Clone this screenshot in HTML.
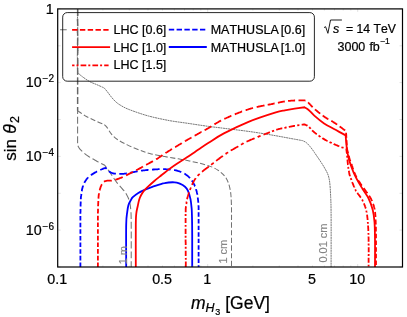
<!DOCTYPE html>
<html><head><meta charset="utf-8"><title>plot</title>
<style>html,body{margin:0;padding:0;background:#fff}body{width:407px;height:317px;position:relative;overflow:hidden;font-family:"Liberation Sans",sans-serif}</style>
</head><body>
<svg width="407" height="317" viewBox="0 0 407 317" style="position:absolute;left:0;top:0;will-change:transform">
<defs><clipPath id="cp"><rect x="57.7" y="8.9" width="344.8" height="258.1"/></clipPath></defs>
<g clip-path="url(#cp)" fill="none" stroke-linejoin="miter">
<path d="M77.6 8.9C77.6 9.8 78.0 12.2 77.9 14.0C77.9 15.8 77.3 18.0 77.3 20.0C77.3 22.0 77.9 24.2 77.9 26.0C77.9 27.8 77.2 29.2 77.2 31.0C77.2 32.8 77.9 34.8 77.9 37.0C77.9 39.2 77.4 41.8 77.4 44.0C77.4 46.2 78.0 48.0 78.0 50.0C78.0 52.0 77.3 54.0 77.3 56.0C77.3 58.0 77.9 60.2 77.9 62.0C77.9 63.8 77.4 65.2 77.4 67.0C77.4 68.8 77.7 71.6 77.8 72.5C78.2 73.0 79.1 74.2 81.1 75.7C83.0 77.2 86.7 79.9 89.3 81.4C91.9 82.9 94.2 83.5 96.7 84.6C99.2 85.7 102.9 87.4 104.1 87.9C104.6 88.5 105.8 89.8 107.0 91.3C108.2 92.8 110.0 95.4 111.5 97.2C113.0 99.0 114.5 100.7 116.0 102.0C117.5 103.3 118.2 103.9 120.4 105.2C122.6 106.5 124.6 107.8 129.3 109.6C134.0 111.4 141.8 114.2 148.5 116.0C155.2 117.8 162.6 119.3 169.3 120.6C176.1 121.8 182.4 122.5 189.0 123.5C195.6 124.5 202.8 125.6 208.6 126.4C214.4 127.2 217.0 127.4 223.9 128.3C230.8 129.2 241.5 130.4 250.0 131.6C258.5 132.8 267.6 134.3 275.0 135.6C282.4 136.9 290.1 138.4 294.7 139.2C299.3 140.0 301.2 140.4 302.5 140.6C303.1 140.9 305.1 141.7 306.4 142.7C307.6 143.7 308.6 144.8 310.0 146.5C311.4 148.2 312.1 149.0 314.5 152.6C316.9 156.2 322.2 163.6 324.6 168.0C327.1 172.4 328.2 174.2 329.2 179.1C330.2 184.0 330.4 191.6 330.7 197.6C331.0 203.6 331.0 203.4 331.1 215.0C331.2 226.6 331.1 258.3 331.1 267.0" stroke="#686868" stroke-width="0.9" stroke-dasharray="2 0.55"/>
<path d="M77.6 110.7C78.8 111.5 81.9 113.9 84.8 115.6C87.7 117.3 92.0 119.2 95.2 120.7C98.4 122.2 102.6 123.8 104.1 124.4C104.6 124.9 105.8 125.8 107.0 127.4C108.2 129.0 109.8 132.1 111.5 134.1C113.2 136.1 114.8 137.7 117.4 139.5C120.0 141.3 123.6 143.1 127.3 144.9C131.0 146.7 135.8 148.7 139.5 150.1C143.2 151.5 145.5 152.4 149.7 153.5C153.9 154.6 158.0 155.4 164.6 156.6C171.2 157.8 181.9 159.3 189.3 160.9C196.7 162.5 204.1 164.2 209.0 165.9C213.9 167.6 215.9 168.8 218.8 170.8C221.7 172.9 224.3 175.1 226.2 178.2C228.1 181.3 229.2 185.0 230.1 189.3C231.0 193.6 231.2 198.1 231.4 204.0C231.6 209.9 231.5 214.5 231.5 225.0C231.5 235.5 231.5 260.0 231.5 267.0" stroke="#727272" stroke-width="1.05" stroke-dasharray="5.2 2.4"/>
<path d="M77.6 8.9L77.6 145.2C78.1 145.9 78.8 147.9 80.4 149.6C82.0 151.3 84.8 153.7 87.4 155.6C90.0 157.5 93.2 159.2 96.1 160.8C99.0 162.4 103.3 164.5 104.7 165.2C105.1 165.8 106.0 166.8 107.3 168.7C108.6 170.6 111.0 174.2 112.6 176.5C114.2 178.8 115.3 180.6 116.9 182.6C118.5 184.6 120.6 186.8 122.1 188.6C123.6 190.4 124.8 191.4 126.0 193.5C127.2 195.6 128.6 198.2 129.4 201.0C130.2 203.8 130.5 206.5 130.8 210.0C131.1 213.5 131.1 212.5 131.2 222.0C131.3 231.5 131.2 259.5 131.2 267.0" stroke="#727272" stroke-width="1.05" stroke-dasharray="7 2.8"/>
<path d="M60.1 29.8H66.7" stroke="#727272" stroke-width="1.1"/>
<path d="M77.6 8.9V110.7" stroke="#666" stroke-width="1.4" stroke-dasharray="7 2.8"/>
<path d="M80.4 267.0L80.4 266.4L80.4 265.9L80.4 265.3L80.4 264.7L80.4 264.1L80.4 263.5L80.4 263.0L80.4 262.5M80.4 260.4L80.4 259.8L80.4 259.2L80.4 258.7L80.4 258.1L80.4 257.5L80.4 257.0L80.4 256.4L80.4 255.8M80.4 253.8L80.4 253.2L80.4 252.6L80.4 252.0L80.4 251.4L80.4 250.8L80.4 250.2L80.4 249.7L80.4 249.2M80.4 247.0L80.4 246.4L80.4 245.9L80.4 245.3L80.4 244.7L80.4 244.1L80.4 243.5L80.4 243.0L80.4 242.5M80.4 240.5L80.4 239.9L80.4 239.3L80.4 238.7L80.4 238.1L80.4 237.6L80.4 237.0L80.4 236.4L80.4 236.0M80.4 233.8L80.4 233.2L80.4 232.7L80.4 232.1L80.4 231.5L80.4 230.9L80.4 230.3L80.4 229.7L80.4 229.3M80.4 227.3L80.4 226.7L80.4 226.1L80.4 225.5L80.4 224.9L80.4 224.3L80.4 223.7L80.4 223.2L80.4 222.7M80.4 220.5L80.4 219.9L80.4 219.4L80.4 218.8L80.4 218.2L80.4 217.6L80.4 217.1L80.4 216.5L80.4 216.0M80.4 213.7L80.4 213.1L80.4 212.5L80.5 211.9L80.5 211.4L80.5 210.8L80.5 210.3L80.5 209.8L80.5 209.2L80.5 208.9M80.6 206.6L80.6 206.0L80.6 205.6L80.6 205.0L80.6 204.4L80.6 203.9L80.7 203.4L80.7 202.9L80.7 202.4L80.7 202.0L80.7 201.6M80.8 199.3L80.8 198.8L80.9 198.3L80.9 197.8L80.9 197.4L80.9 197.0L81.0 196.5L81.1 196.0L81.1 195.7L81.2 195.3L81.3 194.8L81.3 194.4L81.4 194.0L81.4 193.9M81.8 191.3L81.9 190.8L81.9 190.2L82.0 189.7L82.1 189.2L82.2 188.7L82.4 188.2L82.5 187.7L82.6 187.2L82.8 186.7L82.9 186.2L83.1 185.8L83.2 185.5M84.4 182.8L84.6 182.3L84.9 181.9L85.1 181.4L85.4 181.0L85.6 180.6L85.9 180.2L86.2 179.7L86.5 179.3L86.8 178.9L87.1 178.6L87.4 178.2L87.7 177.8L88.1 177.5L88.2 177.3M90.9 175.2L91.3 174.9L91.7 174.6L92.1 174.4L92.5 174.1L92.9 173.9L93.3 173.6L93.7 173.4L94.1 173.1L94.5 172.9L94.9 172.6L95.3 172.4L95.7 172.2L96.1 172.0L96.5 171.7L96.9 171.5L97.1 171.4M100.3 170.0L100.8 169.7L101.3 169.5L101.8 169.3L102.2 169.1L102.7 168.9L103.1 168.7L103.5 168.6L103.9 168.4L104.2 168.3L104.6 168.2L104.9 168.1L105.4 167.9L105.8 168.0L106.0 168.3L106.3 168.5L106.5 168.8L106.6 168.9M109.0 171.2L109.3 171.5L109.6 171.7L109.9 171.9L110.2 172.1L110.5 172.3L110.8 172.5L111.2 172.7L111.5 172.8L111.9 173.0L112.3 173.1L112.8 173.3L113.3 173.4L113.8 173.5L114.3 173.6L114.7 173.6L115.2 173.7L115.6 173.7L115.9 173.7M119.3 173.9L119.8 173.9L120.3 173.9L120.9 173.9L121.4 173.9L121.9 173.9L122.3 173.9L122.8 173.9L123.3 173.8L123.8 173.8L124.3 173.7L124.8 173.7L125.2 173.6L125.7 173.6L126.2 173.5L126.7 173.4L126.8 173.4M130.3 172.8L130.8 172.7L131.3 172.6L131.7 172.5L132.2 172.4L132.7 172.3L133.1 172.2L133.5 172.1L134.0 172.0L134.4 171.9L134.9 171.8L135.4 171.7L135.8 171.6L136.3 171.5L136.8 171.4L137.3 171.3L137.6 171.2M141.0 170.7L141.5 170.6L142.0 170.6L142.6 170.5L143.1 170.4L143.6 170.4L144.2 170.3L144.7 170.3L145.3 170.2L145.8 170.1L146.4 170.1L146.9 170.0L147.5 170.0L148.1 169.9L148.5 169.9M152.0 169.6L152.6 169.6L153.1 169.5L153.6 169.5L154.1 169.5L154.6 169.4L155.2 169.4L155.7 169.4L156.2 169.3L156.7 169.3L157.2 169.3L157.7 169.3L158.2 169.2L158.7 169.2L159.2 169.2L159.6 169.2M163.1 169.2L163.6 169.2L164.1 169.2L164.6 169.2L165.1 169.2L165.6 169.2L166.2 169.3L166.7 169.3L167.2 169.3L167.7 169.3L168.3 169.4L168.8 169.4L169.3 169.5L169.8 169.5L170.4 169.5L170.6 169.6M174.1 170.0L174.6 170.1L175.1 170.2L175.6 170.3L176.1 170.4L176.6 170.5L177.0 170.6L177.5 170.8L177.9 170.9L178.4 171.0L178.8 171.2L179.3 171.3L179.7 171.5L180.2 171.7L180.6 171.8L181.1 172.0L181.3 172.1M184.4 173.7L184.9 173.9L185.4 174.3L185.9 174.6L186.3 174.9L186.8 175.2L187.2 175.5L187.7 175.9L188.1 176.2L188.5 176.6L188.9 176.9L189.2 177.3L189.6 177.7L189.9 178.1M191.9 180.5L192.2 181.0L192.4 181.4L192.7 181.8L193.0 182.3L193.3 182.8L193.5 183.2L193.8 183.7L194.0 184.2L194.3 184.7L194.5 185.2L194.7 185.7L194.9 186.2L195.0 186.3M196.0 189.1L196.1 189.7L196.3 190.2L196.4 190.7L196.6 191.1L196.7 191.6L196.8 192.0L196.9 192.5L197.0 193.0L197.1 193.4L197.2 193.9L197.3 194.4L197.3 194.8M197.8 197.5L197.8 198.0L197.9 198.5L197.9 199.0L198.0 199.6L198.1 200.1L198.1 200.6L198.2 201.2L198.2 201.7L198.3 202.2L198.3 202.8M198.5 205.3L198.5 205.8L198.5 206.2L198.6 206.7L198.6 207.1L198.6 207.5L198.6 208.0L198.6 208.5L198.6 209.0L198.6 209.6L198.6 210.1M198.6 212.3L198.6 212.8L198.6 213.4L198.6 213.9L198.6 214.5L198.6 215.1L198.6 215.6L198.6 216.2L198.6 216.8M198.6 218.9L198.6 219.5L198.6 220.0L198.6 220.6L198.6 221.2L198.6 221.8L198.6 222.4L198.6 223.0L198.6 223.4M198.6 225.7L198.6 226.3L198.6 226.8L198.6 227.4L198.6 228.0L198.6 228.6L198.6 229.2L198.6 229.7L198.6 230.0M198.6 232.2L198.6 232.8L198.6 233.4L198.6 234.0L198.6 234.5L198.6 235.1L198.6 235.7L198.6 236.3L198.6 236.7M198.6 238.7L198.6 239.3L198.6 239.9L198.6 240.5L198.6 241.1L198.6 241.7L198.6 242.3L198.6 242.9L198.6 243.1M198.6 245.3L198.6 245.9L198.6 246.5L198.6 247.1L198.6 247.7L198.6 248.2L198.6 248.8L198.6 249.4L198.6 249.8M198.6 252.0L198.6 252.6L198.6 253.1L198.6 253.7L198.6 254.3L198.6 254.8L198.6 255.4L198.6 256.0L198.6 256.4M198.6 258.6L198.6 259.2L198.6 259.8L198.6 260.3L198.6 260.9L198.6 261.5L198.6 262.1L198.6 262.7L198.6 263.1M198.6 265.2L198.6 265.7L198.6 266.3L198.6 266.9L198.6 267.0" stroke="#00f" stroke-width="1.8"/>
<path d="M126.2 267.0C126.2 259.9 126.0 233.7 126.2 224.6C126.4 215.5 126.8 215.5 127.2 212.3C127.6 209.1 127.8 207.4 128.4 205.3C129.0 203.2 130.2 201.3 130.9 200.0C131.6 198.7 131.6 198.4 132.8 197.2C134.0 196.0 136.2 194.2 138.3 192.9C140.5 191.6 143.4 190.3 145.7 189.3C148.0 188.3 149.2 187.8 152.3 186.8C155.5 185.8 160.9 183.8 164.6 183.1C168.3 182.3 172.0 182.2 174.5 182.3C177.0 182.4 178.1 183.0 179.8 183.7C181.6 184.4 183.6 185.5 185.0 186.7C186.4 187.9 187.1 188.7 188.0 190.8C188.9 192.9 189.9 196.1 190.5 199.1C191.1 202.1 191.4 205.9 191.7 209.0C191.9 212.1 191.9 213.3 192.0 217.6C192.1 221.9 192.2 226.8 192.2 235.0C192.2 243.2 192.2 261.7 192.2 267.0" stroke="#00f" stroke-width="1.8"/>
<path d="M97.9 267.0L97.9 266.4L97.9 265.9L97.9 265.3L97.9 264.8L97.9 264.2L97.9 263.7L97.9 263.1L97.9 262.5M97.9 260.4L97.9 259.8L97.9 259.2L97.9 258.6L97.9 258.1L97.9 257.5L97.9 256.9L97.9 256.3L97.9 255.8M97.9 253.7L97.9 253.1L97.9 252.5L97.9 251.9L97.9 251.4L97.9 250.8L97.9 250.2L97.9 249.6L97.9 249.1M97.9 246.9L97.9 246.4L97.9 245.8L97.9 245.2L97.9 244.6L97.9 244.0L97.9 243.4L97.9 242.9L97.9 242.4M97.9 240.4L97.9 239.8L97.9 239.2L97.9 238.6L97.9 238.0L97.9 237.4L97.9 236.9L97.9 236.3L97.9 235.8M97.9 233.7L97.9 233.1L97.9 232.5L97.9 231.9L97.9 231.3L97.9 230.8L97.9 230.2L97.9 229.6L97.9 229.3M97.9 227.1L97.9 226.6L97.9 226.0L97.9 225.4L97.9 224.8L97.9 224.2L97.9 223.6L97.9 223.1L97.9 222.5M97.9 220.4L97.9 219.8L97.9 219.2L97.9 218.6L97.9 218.0L97.9 217.5L97.9 216.9L97.9 216.3L97.9 215.7M97.9 213.5L97.9 212.9L97.9 212.4L98.0 211.8L98.0 211.2L98.0 210.6L98.0 210.1L98.0 209.6L98.0 209.1L98.0 208.7M98.1 206.2L98.1 205.7L98.1 205.2L98.2 204.6L98.2 204.1L98.2 203.5L98.2 203.0L98.3 202.4L98.3 202.0L98.3 201.5L98.3 201.1M98.4 198.6L98.5 198.2L98.5 197.8L98.5 197.2L98.6 196.6L98.6 196.1L98.7 195.6L98.7 195.1L98.8 194.6L98.9 194.0L99.0 193.4L99.0 193.2M99.6 190.4L99.8 189.9L99.9 189.4L100.0 188.9L100.2 188.4L100.4 187.9L100.5 187.4L100.7 187.0L100.9 186.5L101.1 186.0L101.3 185.5L101.5 185.0L101.7 184.6L101.9 184.3M104.0 181.7L104.5 181.4L104.8 181.3L105.1 181.2L105.4 181.1L105.8 181.0L106.2 180.9L106.6 180.8L107.1 180.7L107.6 180.7L108.1 180.6L108.6 180.6L109.2 180.6L109.8 180.6L110.2 180.6L110.6 180.6L111.0 180.6L111.5 180.6L111.8 180.5M115.4 179.8L115.9 179.6L116.4 179.5L116.9 179.3L117.4 179.1L117.9 178.9L118.4 178.8L118.9 178.6L119.4 178.4L119.9 178.2L120.4 178.0L120.9 177.8L121.4 177.6L121.9 177.4L122.3 177.2L122.7 177.0M126.1 175.4L126.6 175.2L127.1 174.9L127.5 174.7L128.0 174.4L128.5 174.2L129.0 173.9L129.5 173.7L130.0 173.4L130.4 173.2L130.9 172.9L131.4 172.7L131.8 172.5L132.3 172.3L132.7 172.0L132.9 171.9M136.2 170.3L136.7 170.0L137.1 169.8L137.5 169.6L138.0 169.3L138.4 169.1L138.9 168.8L139.4 168.6L139.8 168.3L140.3 168.1L140.7 167.8L141.2 167.6L141.7 167.3L142.2 167.0L142.7 166.8L143.0 166.6M146.2 164.9L146.7 164.6L147.2 164.3L147.7 164.0L148.2 163.8L148.7 163.5L149.2 163.2L149.7 162.9L150.2 162.7L150.7 162.4L151.2 162.2L151.6 161.9L152.1 161.7L152.6 161.4L153.0 161.2M156.1 159.4L156.5 159.1L157.0 158.9L157.3 158.7L157.6 158.5L158.0 158.2L158.4 157.9L158.7 157.7L159.1 157.4L159.5 157.1L159.9 156.9L160.3 156.6L160.7 156.4L161.1 156.1L161.5 155.8L161.9 155.5L162.4 155.2L162.5 155.1M165.5 153.1L165.9 152.8L166.4 152.5L166.9 152.2L167.4 151.9L167.8 151.6L168.2 151.4L168.7 151.1L169.2 150.8L169.7 150.5L170.1 150.2L170.6 149.9L171.0 149.6L171.5 149.3L172.0 149.0M175.1 147.1L175.6 146.9L176.1 146.6L176.6 146.3L177.0 146.0L177.5 145.7L178.0 145.4L178.5 145.1L179.0 144.8L179.5 144.5L180.0 144.2L180.5 143.9L181.0 143.6L181.6 143.3L181.7 143.2M184.9 141.3L185.4 141.0L185.9 140.7L186.3 140.4L186.8 140.2L187.3 139.9L187.8 139.6L188.3 139.3L188.8 139.0L189.2 138.8L189.7 138.5L190.2 138.2L190.7 138.0L191.1 137.7L191.5 137.5M194.6 135.7L195.1 135.5L195.6 135.2L196.1 134.9L196.5 134.7L197.0 134.4L197.5 134.1L198.0 133.9L198.5 133.6L199.0 133.3L199.4 133.1L199.9 132.8L200.4 132.5L200.9 132.3L201.3 132.0L201.5 132.0M204.6 130.3L205.1 130.0L205.6 129.7L206.1 129.4L206.6 129.1L207.1 128.8L207.6 128.6L208.1 128.3L208.6 128.0L209.1 127.7L209.5 127.5L210.0 127.2L210.4 126.9L210.9 126.6L211.3 126.4M214.4 124.4L214.8 124.1L215.3 123.9L215.7 123.6L216.2 123.3L216.6 123.0L217.1 122.7L217.6 122.5L218.0 122.2L218.5 121.9L219.0 121.6L219.5 121.3L220.0 121.1L220.4 120.8L220.9 120.6L221.0 120.5M224.3 118.9L224.8 118.7L225.3 118.5L225.8 118.2L226.4 118.0L226.9 117.7L227.4 117.5L227.9 117.3L228.4 117.1L228.9 116.8L229.4 116.6L230.0 116.4L230.5 116.2L231.0 115.9L231.4 115.8M234.8 114.3L235.3 114.1L235.8 113.9L236.3 113.7L236.9 113.5L237.4 113.3L237.9 113.1L238.4 112.9L238.9 112.7L239.4 112.5L239.9 112.3L240.5 112.1L241.0 111.9L241.5 111.7L242.0 111.5L242.1 111.5M245.6 110.2L246.2 110.1L246.7 109.9L247.3 109.7L247.8 109.5L248.4 109.3L248.9 109.1L249.5 109.0L250.0 108.8L250.5 108.6L251.1 108.5L251.6 108.3L252.2 108.2L252.7 108.0L253.0 107.9M256.7 107.0L257.3 106.9L257.8 106.8L258.4 106.6L259.0 106.5L259.6 106.4L260.1 106.3L260.7 106.1L261.3 106.0L261.8 105.9L262.4 105.8L263.0 105.7L263.5 105.6L264.1 105.5L264.5 105.4M267.7 104.8L268.3 104.7L268.9 104.6L269.4 104.5L270.0 104.4L270.5 104.3L271.1 104.2L271.6 104.1L272.2 104.0L272.8 103.9L273.3 103.7L273.9 103.6L274.4 103.5L274.6 103.5M277.9 102.8L278.4 102.7L278.9 102.6L279.4 102.4L279.9 102.3L280.4 102.2L280.8 102.1L281.3 102.0L281.7 101.9L282.1 101.9L282.5 101.8L282.9 101.7L283.3 101.6L283.8 101.6L284.3 101.5L284.8 101.4M288.1 101.0L288.6 100.9L289.2 100.9L289.8 100.8L290.3 100.8L290.9 100.7L291.4 100.7L292.0 100.7L292.5 100.6L293.1 100.6L293.6 100.6L294.2 100.5L294.7 100.5L295.1 100.5M298.5 100.4L298.9 100.4L299.4 100.4L299.9 100.3L300.3 100.3L300.8 100.3L301.4 100.3L302.0 100.3L302.5 100.3L303.0 100.3L303.4 100.3L303.9 100.3L304.4 100.3L304.7 100.4L305.0 100.5L305.4 100.6L305.5 100.6M308.1 102.4L308.4 102.7L308.7 103.0L309.0 103.4L309.4 103.8L309.8 104.1L310.1 104.5L310.5 105.0L310.9 105.4L311.3 105.8L311.6 106.1L312.0 106.5L312.3 106.8L312.6 107.1L312.7 107.2M315.0 109.3L315.4 109.7L315.8 110.0L316.2 110.3L316.5 110.7L316.9 111.0L317.3 111.3L317.8 111.7L318.2 112.0L318.6 112.4L319.0 112.7L319.4 113.1L319.9 113.4L320.2 113.7M322.7 115.6L323.2 115.9L323.6 116.2L324.0 116.5L324.4 116.8L324.8 117.1L325.2 117.4L325.7 117.6L326.1 117.9L326.5 118.2L326.9 118.4L327.4 118.7L327.8 118.9L328.2 119.2L328.4 119.3M331.3 120.9L331.7 121.1L332.1 121.3L332.5 121.6L332.9 121.8L333.2 122.0L333.8 122.3L334.2 122.7L334.7 123.0L335.2 123.3L335.7 123.6L336.2 124.0L336.7 124.3L337.1 124.6M339.6 126.4L340.1 126.7L340.4 127.0L340.8 127.3L341.2 127.6L341.5 127.8L341.9 128.1L342.2 128.3L342.6 128.6L343.1 129.0L343.5 129.3L343.9 129.6L344.3 129.9L344.6 130.1L345.0 130.4L345.1 130.5M346.1 132.8L346.1 133.4L346.2 134.0L346.2 134.6L346.2 135.1L346.3 135.7L346.3 136.3L346.3 136.9L346.4 137.5L346.4 137.8M346.5 140.1L346.5 140.7L346.6 141.3L346.6 141.8L346.6 142.4L346.7 143.0L346.7 143.6L346.7 144.2L346.8 144.8L346.8 145.2M346.9 147.5L347.0 148.1L347.0 148.7L347.1 149.1L347.2 149.6L347.3 150.0L347.4 150.5L347.6 151.0L347.7 151.5L347.8 152.0L348.0 152.6L348.1 153.0M348.8 155.6L348.9 156.1L349.0 156.7L349.2 157.1L349.3 157.6L349.4 158.0L349.6 158.5L349.7 159.0L349.9 159.5L350.0 160.0L350.2 160.5L350.3 161.0L350.4 161.2M351.4 163.9L351.5 164.4L351.7 164.9L351.9 165.4L352.0 165.8L352.2 166.3L352.4 166.8L352.5 167.3L352.7 167.8L352.9 168.3L353.1 168.9L353.3 169.4M354.2 172.1L354.4 172.6L354.6 173.2L354.9 173.7L355.1 174.3L355.3 174.8L355.5 175.3L355.8 175.8L356.0 176.3L356.3 176.8L356.5 177.3L356.7 177.7M358.2 180.2L358.5 180.7L358.8 181.2L359.2 181.7L359.5 182.1L359.8 182.6L360.1 183.1L360.4 183.5L360.7 184.0L361.0 184.4L361.3 184.8L361.6 185.3L361.9 185.6M363.6 188.1L363.9 188.5L364.2 188.9L364.5 189.3L364.7 189.7L365.0 190.0L365.3 190.3L365.5 190.7L365.8 191.0L366.1 191.5L366.5 192.0L366.8 192.4L367.2 192.9L367.4 193.2M369.1 195.7L369.3 196.1L369.6 196.4L369.8 196.8L370.0 197.1L370.2 197.5L370.5 197.9L370.7 198.3L370.9 198.6L371.1 199.0L371.3 199.4L371.5 199.9L371.7 200.3L371.9 200.7L372.1 201.2M373.1 203.9L373.3 204.4L373.5 204.9L373.6 205.4L373.8 205.9L374.0 206.4L374.1 207.0L374.2 207.5L374.4 208.1L374.5 208.7L374.6 209.3L374.6 209.4M375.0 212.0L375.1 212.4L375.2 212.9L375.2 213.4L375.2 213.8L375.3 214.3L375.3 214.8L375.4 215.3L375.4 215.8L375.4 216.3L375.5 216.8L375.5 217.1M375.6 219.4L375.6 220.0L375.6 220.6L375.7 221.1L375.7 221.6L375.7 222.1L375.7 222.6L375.7 223.1L375.8 223.7L375.8 224.2L375.8 224.4M375.9 226.7L375.9 227.2L375.9 227.8L375.9 228.4L375.9 228.9L375.9 229.5L375.9 230.1L375.9 230.7L375.9 231.2L375.9 231.4M376.0 233.7L376.0 234.2L376.0 234.7L376.0 235.3L376.0 235.8L376.0 236.4L376.0 237.0L376.0 237.6L376.0 238.2L376.0 238.3M376.0 240.4L376.0 241.0L376.0 241.6L376.0 242.2L376.0 242.7L376.0 243.3L376.0 243.9L376.0 244.4L376.0 245.0L376.0 245.1M376.0 247.2L376.0 247.7L376.0 248.3L376.0 248.9L376.0 249.5L376.0 250.1L376.0 250.7L376.0 251.2L376.0 251.7M376.0 253.7L376.0 254.3L376.0 254.9L376.0 255.5L376.0 256.1L376.0 256.6L376.0 257.2L376.0 257.8L376.0 258.3M376.0 260.4L376.0 261.0L376.0 261.5L376.0 262.1L376.0 262.7L376.0 263.3L376.0 263.8L376.0 264.4L376.0 265.0" stroke="#f00" stroke-width="1.8"/>
<path d="M135.8 267.0C135.8 259.9 135.7 233.5 135.8 224.6C135.9 215.7 136.0 216.5 136.3 213.5C136.6 210.5 137.1 208.9 137.6 206.7C138.1 204.4 138.5 202.0 139.1 200.0C139.7 198.0 140.4 196.4 141.3 194.8C142.2 193.2 143.3 191.6 144.3 190.4C145.3 189.2 145.5 189.0 147.2 187.4C148.9 185.8 152.1 182.8 154.6 180.7C157.1 178.6 159.5 176.8 162.0 174.8C164.5 172.8 166.9 170.8 169.4 168.9C171.9 167.1 174.0 165.6 176.9 163.7C179.8 161.8 183.3 159.8 187.0 157.3C190.7 154.8 195.7 151.3 199.3 148.9C202.9 146.5 204.5 145.4 208.6 142.8C212.7 140.2 217.2 136.9 223.9 133.4C230.6 129.9 240.0 125.3 248.5 121.8C257.0 118.3 268.9 114.5 275.0 112.6C281.1 110.7 281.5 110.9 284.8 110.3C288.1 109.7 291.4 109.2 294.7 108.7C298.0 108.2 302.9 107.5 304.5 107.3C305.1 107.7 306.8 108.3 308.4 109.7C310.0 111.1 311.7 113.3 314.3 115.6C316.9 117.9 320.8 121.2 324.1 123.4C327.4 125.6 330.4 127.0 334.0 129.0C337.6 131.0 343.7 134.3 345.6 135.4L346.8 148.7C347.2 150.6 347.8 155.6 349.1 160.0C350.5 164.4 352.6 170.6 354.9 175.4C357.1 180.2 360.3 185.2 362.6 189.0C364.9 192.8 366.9 195.1 368.6 198.5C370.3 201.9 371.7 205.8 372.7 209.7C373.7 213.6 374.1 216.9 374.5 222.0C374.9 227.1 374.9 232.5 375.0 240.0C375.1 247.5 375.0 262.5 375.0 267.0" stroke="#f00" stroke-width="1.8"/>
<path d="M185.8 267.0L185.8 266.4L185.8 265.9L185.8 265.3L185.8 264.8L185.8 264.2L185.8 263.7L185.8 263.1L185.8 262.5L185.8 261.9L185.8 261.6M185.8 259.8L185.8 259.2L185.8 258.6L185.7 258.0L185.7 257.9M185.7 256.0L185.7 255.4L185.7 254.8L185.7 254.3L185.7 253.7L185.7 253.1L185.7 252.6L185.7 252.0L185.7 251.4L185.7 250.8L185.7 250.7M185.7 248.7L185.7 248.1L185.7 247.5L185.7 246.9L185.7 246.8M185.7 244.9L185.7 244.3L185.7 243.7L185.7 243.1L185.7 242.6L185.6 242.0L185.6 241.4L185.6 240.8L185.6 240.2L185.6 239.6M185.6 237.7L185.6 237.1L185.6 236.5L185.6 236.0L185.6 235.8M185.6 234.0L185.6 233.4L185.6 232.8L185.6 232.2L185.6 231.6L185.6 231.0L185.6 230.4L185.6 229.9L185.6 229.3L185.6 228.7M185.6 226.8L185.6 226.3L185.6 225.7L185.6 225.1L185.6 224.9M185.6 223.1L185.6 222.5L185.6 222.0L185.6 221.4L185.6 220.8L185.6 220.2L185.6 219.6L185.6 219.0L185.6 218.4L185.6 217.9M185.6 216.1L185.6 215.5L185.6 214.9L185.6 214.3L185.6 214.0M185.7 212.2L185.7 211.7L185.7 211.1L185.7 210.6L185.7 210.1L185.7 209.6L185.7 209.0L185.7 208.5L185.8 208.0L185.8 207.5L185.9 207.1L185.9 206.7L186.0 206.2M186.3 204.0L186.4 203.5L186.5 202.9L186.5 202.4L186.6 201.9L186.7 201.6M187.1 199.3L187.2 198.8L187.3 198.3L187.4 197.8L187.5 197.3L187.7 196.8L187.8 196.3L187.9 195.8L188.1 195.3L188.2 194.8L188.4 194.3L188.6 193.7L188.7 193.2L188.9 192.7L189.0 192.4M190.0 190.0L190.1 189.5L190.3 189.0L190.5 188.5L190.7 188.0L190.9 187.5M192.0 184.9L192.2 184.4L192.4 183.9L192.7 183.4L192.9 182.9L193.2 182.4L193.5 181.9L193.7 181.4L194.0 180.9L194.3 180.4L194.6 179.9L194.9 179.4L195.2 178.9L195.6 178.4L195.7 178.2M197.6 175.9L197.9 175.5L198.3 175.1L198.6 174.8L199.0 174.4L199.4 174.1L199.7 173.8M202.0 171.8L202.4 171.5L202.8 171.1L203.3 170.8L203.7 170.4L204.1 170.1L204.6 169.8L205.0 169.4L205.4 169.1L205.9 168.8L206.3 168.4L206.8 168.1L207.2 167.8L207.7 167.5L208.1 167.1L208.5 166.8L208.8 166.6M211.2 164.8L211.6 164.4L212.0 164.1L212.4 163.8L212.8 163.5L213.3 163.1L213.7 162.8M216.1 160.9L216.5 160.6L216.9 160.3L217.4 159.9L217.8 159.6L218.2 159.3L218.6 159.0L219.1 158.7L219.5 158.3L219.9 158.0L220.3 157.7L220.7 157.4L221.1 157.1L221.6 156.8L222.0 156.5L222.4 156.2L222.8 155.9L222.9 155.8M225.5 154.0L226.0 153.7L226.4 153.3L226.9 153.0L227.3 152.8L227.8 152.5L228.1 152.3M230.8 150.6L231.2 150.3L231.6 150.1L232.1 149.8L232.6 149.5L233.2 149.2L233.7 148.9L234.2 148.6L234.7 148.4L235.2 148.1L235.6 147.8L236.1 147.5L236.6 147.3L237.1 147.0L237.6 146.7L238.0 146.5L238.3 146.3M241.0 144.7L241.4 144.4L241.8 144.2L242.2 143.9L242.6 143.7L243.1 143.4L243.5 143.2L243.6 143.1M246.5 141.7L247.0 141.5L247.5 141.2L248.0 141.0L248.5 140.8L249.0 140.6L249.6 140.3L250.1 140.1L250.6 139.9L251.1 139.7L251.6 139.5L252.2 139.3L252.7 139.0L253.2 138.8L253.7 138.6L254.2 138.4L254.6 138.2M257.6 137.1L258.1 136.8L258.6 136.6L259.1 136.4L259.6 136.2L260.1 136.0L260.6 135.8M263.5 134.7L264.1 134.5L264.6 134.3L265.1 134.0L265.7 133.8L266.2 133.6L266.8 133.4L267.3 133.2L267.9 133.0L268.4 132.8L268.9 132.6L269.4 132.4L269.9 132.2M272.0 131.4L272.5 131.2L273.1 131.0L273.6 130.8L274.1 130.6M276.3 129.9L276.8 129.7L277.3 129.5L277.7 129.4L278.3 129.2L278.7 129.1L279.2 128.9L279.8 128.8L280.3 128.7L280.7 128.6L281.1 128.5L281.6 128.4L282.0 128.3L282.3 128.3M284.4 127.9L284.9 127.8L285.5 127.6L286.0 127.5L286.6 127.4M288.8 126.9L289.3 126.8L289.9 126.7L290.4 126.6L291.0 126.5L291.5 126.4L292.1 126.3L292.6 126.2L293.2 126.1L293.7 126.0L294.3 125.9L294.8 125.8L295.0 125.8M297.2 125.4L297.6 125.3L298.1 125.3L298.6 125.2L299.0 125.1L299.4 125.1M301.7 124.8L302.2 124.7L302.7 124.6L303.2 124.6L303.6 124.5L304.2 124.4L304.6 124.4L305.0 124.6L305.4 124.8L305.7 124.9L306.1 125.0L306.4 125.2L306.8 125.4L307.2 125.6L307.5 125.8M309.2 127.1L309.6 127.5L309.9 127.8L310.1 128.1L310.4 128.4L310.7 128.8M312.1 130.3L312.5 130.7L312.9 131.0L313.3 131.4L313.7 131.8L314.1 132.1L314.5 132.5L315.0 132.8L315.3 133.1L315.7 133.4L316.1 133.7L316.5 134.0L316.8 134.2M318.6 135.6L319.1 135.9L319.5 136.2L319.9 136.5L320.4 136.8L320.5 136.9M322.3 138.1L322.7 138.4L323.2 138.6L323.6 138.9L324.0 139.1L324.4 139.4L324.8 139.6L325.2 139.9L325.6 140.1L326.0 140.3L326.4 140.5L326.9 140.8L327.4 141.0L327.6 141.1M329.6 142.1L330.1 142.4L330.5 142.5L330.9 142.7L331.4 142.9L331.7 143.1M333.7 143.9L334.1 144.2L334.6 144.4L335.1 144.6L335.6 144.8L336.2 145.0L336.6 145.2L337.1 145.4L337.5 145.6L338.0 145.8L338.5 146.0L339.0 146.2L339.3 146.3M341.5 147.1L341.9 147.3L342.5 147.5L343.0 147.7L343.5 147.9M345.7 148.8L346.1 148.9L346.3 149.3L346.4 149.6L346.4 149.9L346.5 150.3L346.5 150.8L346.6 151.2L346.7 151.7L346.7 152.3L346.8 152.8L346.9 153.4L346.9 153.7M347.1 155.7L347.1 156.1L347.2 156.6L347.2 157.1L347.3 157.6M347.4 159.5L347.5 160.1L347.5 160.6L347.6 161.1L347.6 161.6L347.7 162.1L347.7 162.6L347.8 163.1L347.8 163.6L347.9 164.1L347.9 164.6L348.0 164.9M348.2 166.9L348.3 167.4L348.4 167.8L348.4 168.3L348.5 168.8M348.8 170.8L348.9 171.3L349.0 171.8L349.1 172.3L349.2 172.7L349.2 173.1L349.3 173.4L349.3 173.7L349.4 174.0L349.4 174.3L349.5 174.7L349.7 175.1L349.8 175.6L350.0 176.0L350.0 176.2M350.7 178.1L350.9 178.6L351.1 179.1L351.3 179.6L351.4 180.0M352.2 182.0L352.4 182.5L352.5 183.0L352.7 183.5L352.9 183.9L353.1 184.4L353.3 184.9L353.5 185.4L353.7 185.8L353.9 186.3L354.1 186.8L354.3 187.2L354.3 187.4M355.2 189.3L355.4 189.7L355.6 190.2L355.9 190.7L356.2 191.1M357.3 192.9L357.6 193.3L357.9 193.7L358.1 194.0L358.4 194.4L358.7 194.7L358.9 195.0L359.2 195.5L359.6 195.9L359.9 196.4L360.2 196.8L360.5 197.2L360.7 197.5L360.9 197.7M362.1 199.5L362.3 199.9L362.5 200.4L362.7 200.8L362.9 201.2L363.0 201.4M363.9 203.3L364.1 203.8L364.3 204.3L364.5 204.9L364.7 205.4L364.9 205.9L365.1 206.5L365.3 207.0L365.4 207.4L365.6 207.8L365.7 208.3L365.8 208.6M366.3 210.6L366.4 211.1L366.5 211.5L366.6 212.0L366.7 212.4L366.7 212.5M367.0 214.6L367.1 215.1L367.2 215.6L367.2 216.1L367.3 216.6L367.3 217.1L367.4 217.6L367.5 218.2L367.5 218.7L367.6 219.3L367.6 219.9M367.8 221.9L367.8 222.4L367.9 222.9L367.9 223.4L367.9 223.8M368.1 225.6L368.1 226.2L368.1 226.7L368.2 227.2L368.2 227.8L368.2 228.4L368.3 228.9L368.3 229.5L368.3 230.1L368.3 230.7L368.3 230.9M368.4 232.9L368.4 233.4L368.5 233.9L368.5 234.5L368.5 234.7M368.5 236.6L368.5 237.1L368.6 237.7L368.6 238.3L368.6 238.8L368.6 239.3L368.6 239.9L368.6 240.4L368.6 241.0L368.6 241.6L368.6 241.7M368.6 243.6L368.6 244.1L368.6 244.7L368.7 245.2L368.7 245.4M368.7 247.3L368.7 247.9L368.7 248.5L368.7 249.0L368.7 249.6L368.7 250.2L368.7 250.8L368.7 251.4L368.7 252.0L368.7 252.3M368.7 254.0L368.7 254.6L368.6 255.2L368.6 255.8L368.6 255.9M368.6 257.8L368.6 258.3L368.6 258.9L368.6 259.4L368.6 260.0L368.6 260.5L368.6 261.1L368.6 261.7L368.6 262.2L368.6 262.8M368.6 264.7L368.6 265.3L368.6 265.8L368.6 266.4L368.6 266.5" stroke="#f00" stroke-width="1.8"/>
</g>
<path d="M57.7 267.0 v-3.0M57.7 8.9 v3.0M102.9 267.0 v-1.6M102.9 8.9 v1.6M129.3 267.0 v-1.6M129.3 8.9 v1.6M148.0 267.0 v-1.6M148.0 8.9 v1.6M162.5 267.0 v-1.6M162.5 8.9 v1.6M174.4 267.0 v-1.6M174.4 8.9 v1.6M184.5 267.0 v-1.6M184.5 8.9 v1.6M193.2 267.0 v-1.6M193.2 8.9 v1.6M200.8 267.0 v-1.6M200.8 8.9 v1.6M207.7 267.0 v-3.0M207.7 8.9 v3.0M252.9 267.0 v-1.6M252.9 8.9 v1.6M279.3 267.0 v-1.6M279.3 8.9 v1.6M298.0 267.0 v-1.6M298.0 8.9 v1.6M312.5 267.0 v-1.6M312.5 8.9 v1.6M324.4 267.0 v-1.6M324.4 8.9 v1.6M334.5 267.0 v-1.6M334.5 8.9 v1.6M343.2 267.0 v-1.6M343.2 8.9 v1.6M350.8 267.0 v-1.6M350.8 8.9 v1.6M357.7 267.0 v-3.0M357.7 8.9 v3.0M57.7 8.9 h3M402.5 8.9 h-3M57.7 45.8 h3M402.5 45.8 h-3M57.7 82.6 h3M402.5 82.6 h-3M57.7 119.5 h3M402.5 119.5 h-3M57.7 156.4 h3M402.5 156.4 h-3M57.7 193.3 h3M402.5 193.3 h-3M57.7 230.1 h3M402.5 230.1 h-3M57.7 267.0 h3M402.5 267.0 h-3" stroke="#cfcfcf" stroke-width="0.6" fill="none"/>
<rect x="57.7" y="8.9" width="344.8" height="258.1" fill="none" stroke="#000" stroke-width="1.2"/>
<rect x="62.7" y="12.6" width="251.7" height="68.6" rx="4.5" ry="4.5" fill="none" stroke="#111" stroke-width="0.9"/>
<g fill="none" stroke-width="1.8">
<path d="M72.1 29.8H108.6" stroke="#f00" stroke-dasharray="5.4 2.4"/>
<path d="M72.1 47.2H110.1" stroke="#f00"/>
<path d="M72.1 65.3H108.6" stroke="#f00" stroke-dasharray="5.7 2 2 2.1" stroke-dashoffset="3.3"/>
<path d="M168.8 29.6H205.3" stroke="#00f" stroke-dasharray="5.4 2.4"/>
<path d="M168.8 47H206.8" stroke="#00f"/>
</g>
<g fill="#000" stroke="#000" stroke-width="0.22" style="font-family:&quot;Liberation Sans&quot;,sans-serif;font-kerning:none">
<g font-size="12.5px">
<text x="113.5" y="34.2">LHC [0.6]</text>
<text x="113.5" y="51.5">LHC [1.0]</text>
<text x="113.5" y="69">LHC [1.5]</text>
<text x="210.7" y="34.2">MATHUSLA</text><text x="280.8" y="34.2">[0.6]</text>
<text x="210.7" y="51.5">MATHUSLA</text><text x="280.8" y="51.5">[1.0]</text>
<text x="333" y="32.6" font-style="italic">s</text>
<text x="346" y="32.6" font-size="12.2px">= 14 TeV</text>
<text x="337.5" y="51" font-size="12.5px">3000</text><text x="369.4" y="51" font-size="12.5px">fb</text><text x="380" y="44.4" font-size="8.6px">−1</text>
</g>
<path d="M324 27.6l1.6-0.9 2.3 6.6 2.6-13.3h11.4" fill="none" stroke="#111" stroke-width="0.95"/>
<g font-size="14.3px">
<text x="53.6" y="13.6" text-anchor="end">1</text>
<text x="41.7" y="87.4" text-anchor="end">10</text><text x="42.6" y="82.0" font-size="10px">−2</text>
<text x="41.7" y="161.2" text-anchor="end">10</text><text x="42.6" y="155.8" font-size="10px">−4</text>
<text x="41.7" y="234.9" text-anchor="end">10</text><text x="42.6" y="229.5" font-size="10px">−6</text>
<text x="57.3" y="283.7" text-anchor="middle">0.1</text>
<text x="162.1" y="283.7" text-anchor="middle">0.5</text>
<text x="207.3" y="283.7" text-anchor="middle">1</text>
<text x="312.1" y="283.7" text-anchor="middle">5</text>
<text x="357.3" y="283.7" text-anchor="middle">10</text>
</g>
<g font-size="17.5px">
<text x="191" y="308.5" font-style="italic">m</text>
<text x="205.6" y="312.1" font-style="italic" font-size="12.4px">H</text>
<text x="215.2" y="314.7" font-size="9px">3</text>
<text x="225.2" y="308.5">[GeV]</text>
<text transform="translate(15.5,160.8) rotate(-90)" font-size="17px">sin <tspan font-style="italic" dx="0.7" font-size="17.5px">θ</tspan><tspan font-size="12.5px" dy="3.6" dx="1.2">2</tspan></text>
</g>
<g font-size="11px" fill="#858585" stroke="#858585" stroke-width="0.15">
<text transform="translate(126.9,264.3) rotate(-90)">1 m</text>
<text transform="translate(226.5,263.6) rotate(-90)">1 cm</text>
<text transform="translate(326.5,262.6) rotate(-90)">0.01 cm</text>
</g>
</g>
</svg>
</body></html>
